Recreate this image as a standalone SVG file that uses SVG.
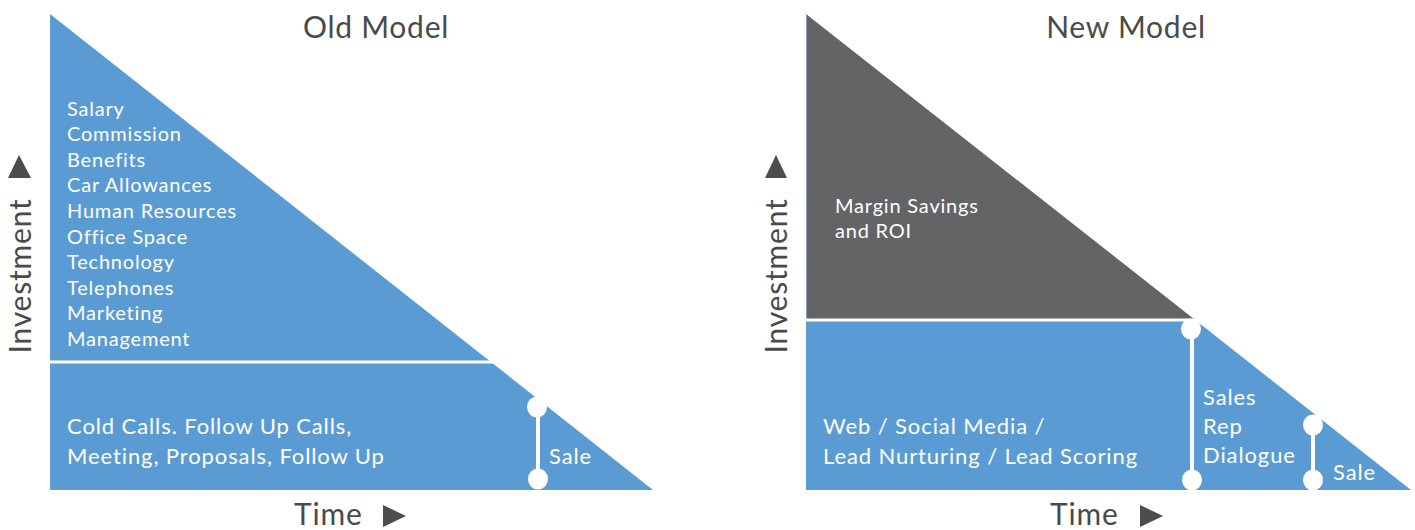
<svg xmlns="http://www.w3.org/2000/svg" width="1415" height="530" viewBox="0 0 1415 530">
  <style>
    .title { font-family: Lato, "Open Sans", sans-serif; font-size: 30px; letter-spacing: 0.75px; fill: #4a4a4a; }
    .axis { font-family: Lato, "Open Sans", sans-serif; font-size: 30px; letter-spacing: 0.8px; fill: #4a4a4a; }
    .w19 { font-family: Lato, "Open Sans", sans-serif; font-size: 20px; letter-spacing: 0.8px; fill: #ffffff; }
    .w21 { font-family: Lato, "Open Sans", sans-serif; font-size: 22px; letter-spacing: 0.9px; fill: #ffffff; }
    .blue { fill: #5b9bd4; }
    .dark { fill: #636466; }
    .arrow { fill: #4d4d4d; }
    .divider { stroke: #ffffff; stroke-width: 3; }
    .bar { stroke: #ffffff; stroke-width: 4; }
    .dot { fill: #ffffff; }
  </style>

  <!-- Old model -->
  <g id="old-model">
    <text class="title" x="376" y="38" text-anchor="middle">Old Model</text>
    <polygon class="blue" points="50,14 50,490 653,490"/>
    <line class="divider" x1="50" y1="362" x2="495" y2="362"/>
    <g id="old-costs">
      <text class="w19" x="67" y="116">Salary</text>
      <text class="w19" x="67" y="141">Commission</text>
      <text class="w19" x="67" y="167">Benefits</text>
      <text class="w19" x="67" y="192">Car Allowances</text>
      <text class="w19" x="67" y="218">Human Resources</text>
      <text class="w19" x="67" y="244">Office Space</text>
      <text class="w19" x="67" y="269">Technology</text>
      <text class="w19" x="67" y="295">Telephones</text>
      <text class="w19" x="67" y="320">Marketing</text>
      <text class="w19" x="67" y="346">Management</text>
    </g>
    <g id="old-activities">
      <text class="w21" x="67" y="434">Cold Calls. Follow Up Calls,</text>
      <text class="w21" x="67" y="464">Meeting, Proposals, Follow Up</text>
    </g>
    <g id="old-sale">
      <line class="bar" x1="538" y1="408" x2="538" y2="479"/>
      <ellipse class="dot" cx="537" cy="407" rx="10" ry="10.5"/>
      <ellipse class="dot" cx="538" cy="479" rx="10" ry="10.5"/>
      <text class="w21" x="549" y="464">Sale</text>
    </g>
    <g id="old-axes">
      <polygon class="arrow" points="19,155 31,178 8,178"/>
      <text class="axis" transform="translate(31,276) rotate(-90)" text-anchor="middle">Investment</text>
      <text class="axis" x="294" y="525">Time</text>
      <polygon class="arrow" points="383,505 406,516 383,527"/>
    </g>
  </g>

  <!-- New model -->
  <g id="new-model">
    <text class="title" x="1126" y="38" text-anchor="middle">New Model</text>
    <polygon class="blue" points="806,319 1194,319 1411,490 806,490"/>
    <polygon class="dark" points="806,14 806,319 1194,319"/>
    <line x1="806.5" y1="14" x2="806.5" y2="319" stroke="#8a9bb0" stroke-width="1"/>
    <line class="divider" x1="806" y1="320" x2="1196" y2="320"/>
    <g id="new-savings">
      <text class="w19" x="835" y="213">Margin Savings</text>
      <text class="w19" x="835" y="238">and ROI</text>
    </g>
    <g id="new-activities">
      <text class="w21" x="823" y="434">Web / Social Media /</text>
      <text class="w21" x="823" y="464">Lead Nurturing / Lead Scoring</text>
    </g>
    <g id="new-rep">
      <line class="bar" x1="1192" y1="330" x2="1192" y2="480"/>
      <ellipse class="dot" cx="1191" cy="329" rx="10" ry="10.5"/>
      <ellipse class="dot" cx="1192" cy="480" rx="10" ry="10.5"/>
      <text class="w21" x="1203" y="405">Sales</text>
      <text class="w21" x="1203" y="434">Rep</text>
      <text class="w21" x="1203" y="463">Dialogue</text>
    </g>
    <g id="new-sale">
      <line class="bar" x1="1313" y1="425" x2="1313" y2="480"/>
      <ellipse class="dot" cx="1313" cy="425" rx="10" ry="10.5"/>
      <ellipse class="dot" cx="1313" cy="480" rx="10" ry="10.5"/>
      <text class="w21" x="1333" y="480">Sale</text>
    </g>
    <g id="new-axes">
      <polygon class="arrow" points="776,155 787,178 765,178"/>
      <text class="axis" transform="translate(787,276) rotate(-90)" text-anchor="middle">Investment</text>
      <text class="axis" x="1050" y="525">Time</text>
      <polygon class="arrow" points="1140,505 1163,516 1140,527"/>
    </g>
  </g>
</svg>
